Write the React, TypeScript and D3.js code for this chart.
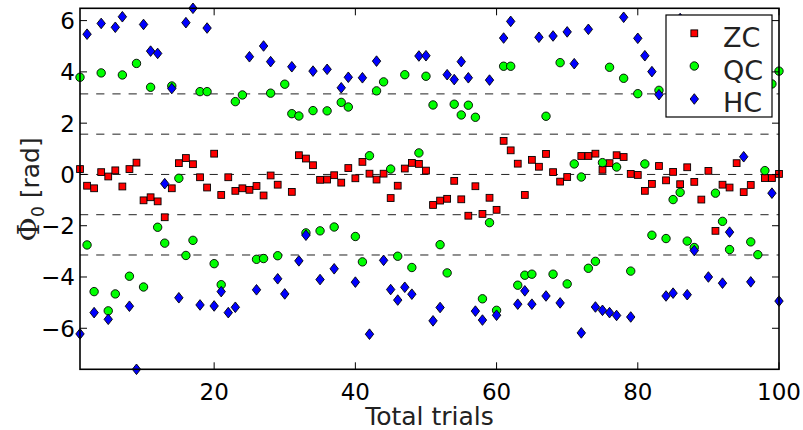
import React from "react";
import * as d3 from "d3";

// Trial index 1..100
const trials: number[] = d3.range(1, 101);

// ZC (red squares)
const zcValues: (number | null)[] = [
  0.21, -0.44, -0.54, 0.09, -0.08, 0.16, -0.47, 0.21, 0.46, -1.01,
  -0.89, -1.05, -1.67, -0.54, 0.44, 0.64, 0.40, -0.11, -0.51, 0.81,
  -0.80, -0.11, -0.64, -0.54, -0.60, -0.45, -0.82, -0.04, -0.40, null,
  -0.68, 0.75, 0.62, 0.36, -0.21, -0.20, -0.03, -0.32, 0.25, -0.15,
  0.49, 0.03, -0.20, 0.03, -0.92, -0.44, 0.23, 0.45, 0.41, 0.15,
  -1.19, -1.02, -0.95, -0.25, -0.97, -1.61, -0.46, -1.54, -0.91, -1.38,
  1.31, 0.94, 0.42, -0.80, 0.57, 0.30, 0.80, 0.09, -0.28, -0.10,
  null, 0.72, 0.72, 0.81, 0.18, 0.44, 0.75, 0.68, 0.02, -0.02,
  -0.64, -0.37, 0.33, -0.23, 0.10, -0.38, 0.28, -0.29, -0.98, 0.14,
  -2.20, -0.40, -0.51, 0.44, -0.69, -0.41, null, -0.14, -0.14, 0.02,
];

// QC (green circles)
const qcValues: (number | null)[] = [
  3.79, -2.75, -4.57, 3.96, -5.32, -4.66, 3.88, -3.97, 4.33, -4.39,
  3.40, -2.06, -2.68, 3.45, -0.15, -3.16, -2.57, 3.23, 3.23, -3.48,
  -4.30, null, 2.84, 3.10, null, -3.31, -3.28, 3.17, -3.17, 3.52,
  2.37, 2.28, -2.28, 2.49, -2.20, 2.48, -2.05, 2.81, 2.63, -2.42,
  -3.41, 0.73, 3.26, 3.61, 0.21, -3.19, 3.89, -3.63, 0.84, 3.83,
  2.71, -2.74, -3.84, 2.74, 2.32, 2.70, 2.23, -4.85, -1.88, -5.30,
  4.22, 4.22, -4.32, -3.93, -3.89, null, 2.27, -3.89, 4.36, -4.27,
  0.41, -0.10, -3.66, -3.39, 0.46, 4.18, 0.29, 3.75, -3.77, 3.15,
  0.41, -2.37, 3.28, -2.50, -0.98, -0.70, -2.60, -2.85, null, null,
  -0.73, -1.83, -2.93, null, null, -2.63, -3.13, 0.15, 3.53, 4.03,
];

// HC (blue diamonds)
const hcValues: (number | null)[] = [
  -6.22, 5.47, -5.39, 5.89, -5.65, 5.74, 6.15, -5.14, -7.60, 5.85,
  4.81, 4.72, -0.36, 3.35, -4.81, 5.92, 6.48, -5.09, 5.71, -5.13,
  -4.57, -5.39, -5.18, null, 4.59, -4.50, 5.01, 4.40, -4.07, -4.66,
  4.20, -3.37, -2.37, 4.03, -4.10, 4.10, -3.68, 3.38, 3.79, -4.20,
  3.77, -6.23, 4.42, -3.35, -4.49, -4.90, -4.40, -4.67, 4.62, 4.63,
  -5.71, -5.19, 3.89, 3.70, 4.40, 3.77, -5.33, -5.68, 3.68, -5.49,
  5.32, 5.97, -5.06, -4.54, -5.06, 5.35, -4.74, 5.40, -5.01, 5.56,
  4.32, -6.18, 5.66, -5.17, -5.30, -5.39, -5.50, 6.13, -5.56, 5.31,
  4.63, 4.01, 3.11, -4.74, -4.63, 6.08, -4.69, -2.97, null, -4.00,
  null, -4.24, -2.25, null, 0.69, -4.19, null, null, -0.73, -4.94,
];

const xTicks: number[] = [20, 40, 60, 80, 100];
const yTicks: number[] = [-6, -4, -2, 0, 2, 4, 6];
const refLines: number[] = [Math.PI, Math.PI / 2, 0, -Math.PI / 2, -Math.PI];
const legendLabels: string[] = ["ZC", "QC", "HC"];

const W = 803;
const H = 430;
const left = 80;
const right = 779;
const top = 8.3;
const bottom = 369.3;

const SANS = "'DejaVu Sans', sans-serif";

function fmt(v: number): string {
  return v < 0 ? "\u2212" + Math.abs(v) : String(v);
}

function Square({ x, y }: { x: number; y: number }) {
  const s = 6.8;
  return (
    <rect x={x - s / 2} y={y - s / 2} width={s} height={s}
      fill="#ff0000" stroke="#000" strokeWidth={0.9} />
  );
}
function Circle({ x, y }: { x: number; y: number }) {
  return <circle cx={x} cy={y} r={4.2} fill="#00ff00" stroke="#000" strokeWidth={0.9} />;
}
function Diamond({ x, y }: { x: number; y: number }) {
  const hw = 4.2, hh = 5.3;
  const p = d3.path();
  p.moveTo(x, y - hh);
  p.lineTo(x + hw, y);
  p.lineTo(x, y + hh);
  p.lineTo(x - hw, y);
  p.closePath();
  return <path d={p.toString()} fill="#0000ff" stroke="#000" strokeWidth={0.9} />;
}

export default function App() {
  const all = [...zcValues, ...qcValues, ...hcValues].filter((v): v is number => v !== null);
  const ext = d3.extent(all) as [number, number];
  const x = d3.scaleLinear().domain([1, 100]).range([left, right]);
  const y = d3.scaleLinear().domain(ext).range([bottom, top]);

  const tl = 7;

  const series: { vals: (number | null)[]; M: any }[] = [
    { vals: zcValues, M: Square },
    { vals: qcValues, M: Circle },
    { vals: hcValues, M: Diamond },
  ];

  const legendMarkers = [Square, Circle, Diamond];
  const legendRowY = [33.3, 66, 99];
  const legendTextY = [46.5, 79.5, 112];

  return (
    <svg width={W} height={H} style={{ position: "absolute", left: 0, top: 0, background: "#fff" }}
      xmlns="http://www.w3.org/2000/svg">
      <rect x={0} y={0} width={W} height={H} fill="#fff" />
      {/* reference dashed lines */}
      {refLines.map((v, i) => (
        <line key={"r" + i} x1={left} x2={right} y1={y(v)} y2={y(v)}
          stroke="#222" strokeWidth={1} strokeDasharray="8.2 8" />
      ))}
      {/* data */}
      {series.map((s, si) => (
        <g key={"s" + si}>
          {trials.map((t, i) => {
            const v = s.vals[i];
            if (v === null || v === undefined) return null;
            const M = s.M;
            return <M key={i} x={x(t)} y={y(v)} />;
          })}
        </g>
      ))}
      {/* ticks */}
      {xTicks.map((t) => (
        <g key={"xt" + t}>
          <line x1={x(t)} x2={x(t)} y1={bottom} y2={bottom - tl} stroke="#000" strokeWidth={1} />
          <line x1={x(t)} x2={x(t)} y1={top} y2={top + tl} stroke="#000" strokeWidth={1} />
          <text x={x(t)} y={400} textAnchor="middle" fontFamily={SANS} fontSize={23} fill="#000">
            {fmt(t)}
          </text>
        </g>
      ))}
      {yTicks.map((t) => (
        <g key={"yt" + t}>
          <line x1={left} x2={left + tl} y1={y(t)} y2={y(t)} stroke="#000" strokeWidth={1} />
          <line x1={right} x2={right - tl} y1={y(t)} y2={y(t)} stroke="#000" strokeWidth={1} />
          <text x={75} y={y(t) + 8.5} textAnchor="end" fontFamily={SANS} fontSize={23} fill="#000">
            {fmt(t)}
          </text>
        </g>
      ))}
      {/* frame */}
      <rect x={left} y={top} width={right - left} height={bottom - top}
        fill="none" stroke="#000" strokeWidth={1.6} />
      {/* legend */}
      <rect x={666} y={15} width={106} height={102} fill="#fff" stroke="#000" strokeWidth={1.2} />
      {legendLabels.map((lab, i) => {
        const M = legendMarkers[i];
        return (
          <g key={"lg" + i}>
            <M x={694.3} y={legendRowY[i]} />
            <text x={723} y={legendTextY[i]} fontFamily={SANS} fontSize={27} fill="#222">
              {lab}
            </text>
          </g>
        );
      })}
      {/* axis labels */}
      <text x={(left + right) / 2} y={425} textAnchor="middle" fontFamily={SANS} fontSize={25} fill="#222">
        Total trials
      </text>
      <text transform={`translate(39, ${189.5}) rotate(-90)`} textAnchor="middle" fontSize={25} fill="#222">
        <tspan fontFamily="'DejaVu Serif', serif" fontSize={30}>{"\u03A6"}</tspan>
        <tspan fontFamily={SANS} fontSize={17} dy={5}>0</tspan>
        <tspan fontFamily={SANS} dy={-5}>{" [rad]"}</tspan>
      </text>
    </svg>
  );
}
